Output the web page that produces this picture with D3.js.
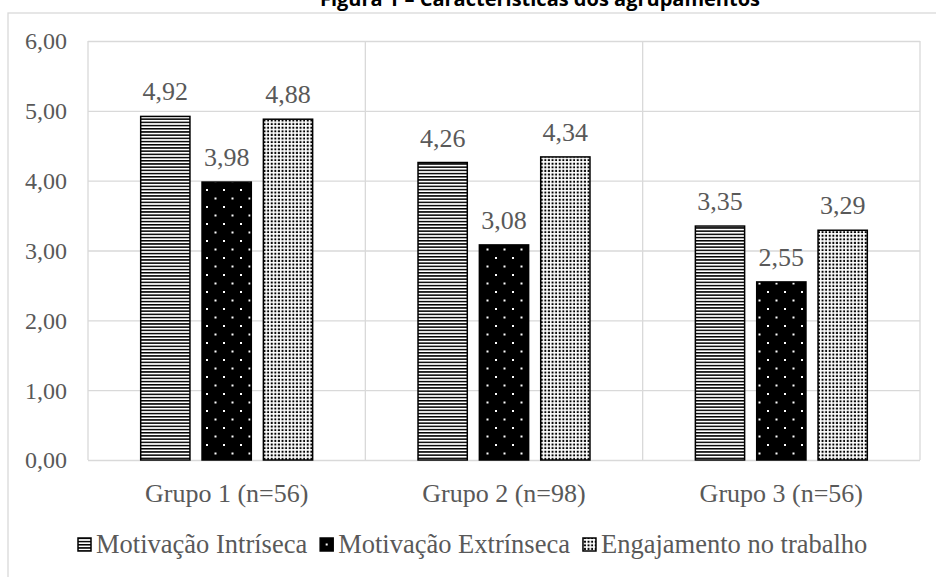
<!DOCTYPE html>
<html lang="pt">
<head>
<meta charset="utf-8">
<title>Figura 1 – Características dos agrupamentos</title>
<script src="https://d3js.org/d3.v7.min.js"></script>
<style>
  body { margin: 0; background: #fff; }
  #chart1 text { font-family: "Liberation Serif", "Times New Roman", serif; fill: #595959; }
  #chart1 .title { font-family: "Open Sans", "Liberation Sans", sans-serif; font-weight: bold; fill: #000; }
</style>
</head>
<body>
<div id="chart1"></div>
<script>
// data
const groups = ["Grupo 1 (n=56)", "Grupo 2 (n=98)", "Grupo 3 (n=56)"];
const seriesNames = ["Motivação Intríseca", "Motivação Extrínseca", "Engajamento no trabalho"];
const intrinseca = [4.92, 4.26, 3.35];
const extrinseca = [3.98, 3.08, 2.55];
const engajamento = [4.88, 4.34, 3.29];
const yTicks = [0, 1, 2, 3, 4, 5, 6];

const W = 936, H = 577;
const margin = {top: 41, right: 16, bottom: 117, left: 88};
const fmt = v => d3.format(".2f")(v).replace(".", ",");

const svg = d3.select("#chart1").append("svg")
    .attr("width", W).attr("height", H);

// patterns
const defs = svg.append("defs");
const pH = defs.append("pattern").attr("id", "pat-h")
    .attr("patternUnits", "userSpaceOnUse").attr("width", 4).attr("height", 3.2);
pH.append("rect").attr("width", 4).attr("height", 3.2).attr("fill", "#fff");
pH.append("rect").attr("y", 0).attr("width", 4).attr("height", 1.5).attr("fill", "#000");

const pD = defs.append("pattern").attr("id", "pat-d")
    .attr("patternUnits", "userSpaceOnUse").attr("width", 17).attr("height", 17);
pD.append("rect").attr("width", 17).attr("height", 17).attr("fill", "#000");
pD.append("rect").attr("x", 2).attr("y", 2).attr("width", 2).attr("height", 2).attr("fill", "#fff");
pD.append("rect").attr("x", 10.5).attr("y", 10.5).attr("width", 2).attr("height", 2).attr("fill", "#fff");

const pE = defs.append("pattern").attr("id", "pat-e")
    .attr("patternUnits", "userSpaceOnUse").attr("width", 3.6).attr("height", 3.6);
pE.append("rect").attr("width", 3.6).attr("height", 3.6).attr("fill", "#fff");
pE.append("rect").attr("x", 0.7).attr("y", 0.7).attr("width", 2).attr("height", 2).attr("fill", "#000");

const fills = ["url(#pat-h)", "url(#pat-d)", "url(#pat-e)"];
const values = [intrinseca, extrinseca, engajamento];

// title (cut at top of the image, as in the source page)
svg.append("text").attr("class", "title")
    .attr("x", 540).attr("y", 6)
    .attr("text-anchor", "middle")
    .style("font-size", "20px")
    .text("Figura 1 – Características dos agrupamentos");

// outer chart border
svg.append("rect")
    .attr("x", 8).attr("y", 13).attr("width", 1000).attr("height", 700)
    .attr("fill", "none").attr("stroke", "#d9d9d9").attr("stroke-width", 1.3);

const x0 = d3.scaleBand().domain(groups).range([margin.left, W - margin.right]);
const gw = x0.bandwidth();
const x1 = d3.scaleBand().domain(seriesNames)
    .range([gw * 0.19, gw * 0.81]).paddingInner(0.197);
const y = d3.scaleLinear().domain([0, 6]).range([H - margin.bottom, margin.top]);

// horizontal gridlines + y labels
const yAxis = svg.append("g")
    .attr("transform", `translate(${margin.left},0)`)
    .call(d3.axisLeft(y).tickValues(yTicks).tickFormat(fmt)
        .tickSize(-(W - margin.right - margin.left)).tickPadding(21));
yAxis.select(".domain").remove();
yAxis.selectAll(".tick line").attr("stroke", "#d9d9d9").attr("stroke-width", 1.3);
yAxis.selectAll(".tick text").style("font-size", "24px").attr("dy", "0.33em");

// vertical gridlines at group boundaries
const bounds = groups.map(g => x0(g)).concat([x0(groups[groups.length - 1]) + gw]);
svg.append("g").selectAll("line").data(bounds).join("line")
    .attr("x1", d => d).attr("x2", d => d)
    .attr("y1", y(6)).attr("y2", y(0))
    .attr("stroke", "#d9d9d9").attr("stroke-width", 1.3);

// bars
const data = [];
groups.forEach((g, gi) => seriesNames.forEach((s, si) => {
    data.push({g, s, si, v: values[si][gi]});
}));

const bars = svg.append("g");
bars.selectAll("rect").data(data).join("rect")
    .attr("x", d => x0(d.g) + x1(d.s))
    .attr("y", d => y(d.v))
    .attr("width", x1.bandwidth())
    .attr("height", d => y(0) - y(d.v))
    .attr("fill", d => fills[d.si])
    .attr("stroke", "#000").attr("stroke-width", 1.5);

bars.selectAll("text").data(data).join("text")
    .attr("x", d => x0(d.g) + x1(d.s) + x1.bandwidth() / 2)
    .attr("y", d => y(d.v) - 16)
    .attr("text-anchor", "middle")
    .style("font-size", "26px")
    .text(d => fmt(d.v));

// category labels
svg.append("g").selectAll("text").data(groups).join("text")
    .attr("x", d => x0(d) + gw / 2)
    .attr("y", 502)
    .attr("text-anchor", "middle")
    .style("font-size", "26px")
    .text(d => d);

// legend
const legend = svg.append("g");
let lx = 78;
seriesNames.forEach((s, i) => {
    const item = legend.append("g");
    item.append("rect")
        .attr("x", lx).attr("y", 538).attr("width", 13).attr("height", 13)
        .attr("fill", i === 1 ? "#000" : fills[i])
        .attr("stroke", "#000").attr("stroke-width", 1.5);
    if (i === 1) {
        item.append("rect").attr("x", lx + 5.5).attr("y", 543.5)
            .attr("width", 2).attr("height", 2).attr("fill", "#fff");
    }
    const t = item.append("text")
        .attr("x", lx + 18).attr("y", 553)
        .style("font-size", "26.5px")
        .text(s);
    lx += 18 + t.node().getComputedTextLength() + 13;
});
</script>
</body>
</html>
